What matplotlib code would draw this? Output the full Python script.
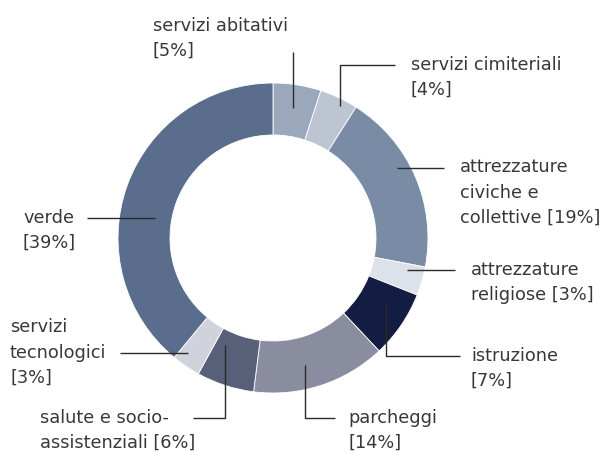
import matplotlib
matplotlib.use("Agg")
import matplotlib.pyplot as plt

# ---- data ----
categories = ["servizi abitativi", "servizi cimiteriali", "attrezzature civiche e collettive",
              "attrezzature religiose", "istruzione", "parcheggi",
              "salute e socio-assistenziali", "servizi tecnologici", "verde"]
values = [5, 4, 19, 3, 7, 14, 6, 3, 39]
label_texts = ["servizi abitativi\n[5%]", "servizi cimiteriali\n[4%]",
               "attrezzature\nciviche e\ncollettive [19%]", "attrezzature\nreligiose [3%]",
               "istruzione\n[7%]", "parcheggi\n[14%]", "salute e socio-\nassistenziali [6%]",
               "servizi\ntecnologici\n[3%]", "verde\n[39%]"]
colors = ["#9ba8bc", "#bdc5d3", "#7a8ba5", "#dde1ea", "#131d41",
          "#898d9f", "#585f79", "#d0d3dc", "#5a6d8d"]

# ---- layout (pixel coords, y from top) ----
W, H = 607, 451
CX, CY, R, RING = 273, 238, 155, 52
PITCH = 25
# label anchor (x, baseline of first line), leader path points
layout = [
    ((153, 31), [(293, 52), (293, 108)]),
    ((411, 70), [(340, 106), (340, 65), (395, 65)]),
    ((460, 173), [(397, 168), (444, 168)]),
    ((471, 275), [(407, 270), (455, 270)]),
    ((471, 361), [(386, 302), (386, 356), (460, 356)]),
    ((348, 423), [(305, 365), (305, 418), (335, 418)]),
    ((40, 423), [(225, 345), (225, 418), (193, 418)]),
    ((10, 333), [(188, 353), (120, 353)]),
    ((23, 223), [(155, 218), (87, 218)]),
]

plt.rcParams['font.family'] = ['DejaVu Sans']

fig = plt.figure(figsize=(W / 100, H / 100), dpi=100)
ax = fig.add_axes([0, 0, 1, 1])
ax.pie(values, colors=colors, startangle=90, counterclock=False,
       center=(CX, H - CY), radius=R,
       wedgeprops=dict(width=RING, edgecolor="white", linewidth=0.6))
ax.set_xlim(0, W)
ax.set_ylim(0, H)
ax.set_aspect('equal')
ax.axis('off')

for txt, ((lx, ly), path) in zip(label_texts, layout):
    xs = [p[0] for p in path]
    ys = [H - p[1] for p in path]
    ax.plot(xs, ys, color="#2b2b2b", lw=1.0, solid_capstyle='butt', zorder=5)
    n = txt.count("\n")
    ax.text(lx, H - (ly + PITCH * n), txt, fontsize=12.8, color="#383838",
            va="baseline", ha="left", linespacing=1.52)

fig.savefig("out.png", dpi=100)
